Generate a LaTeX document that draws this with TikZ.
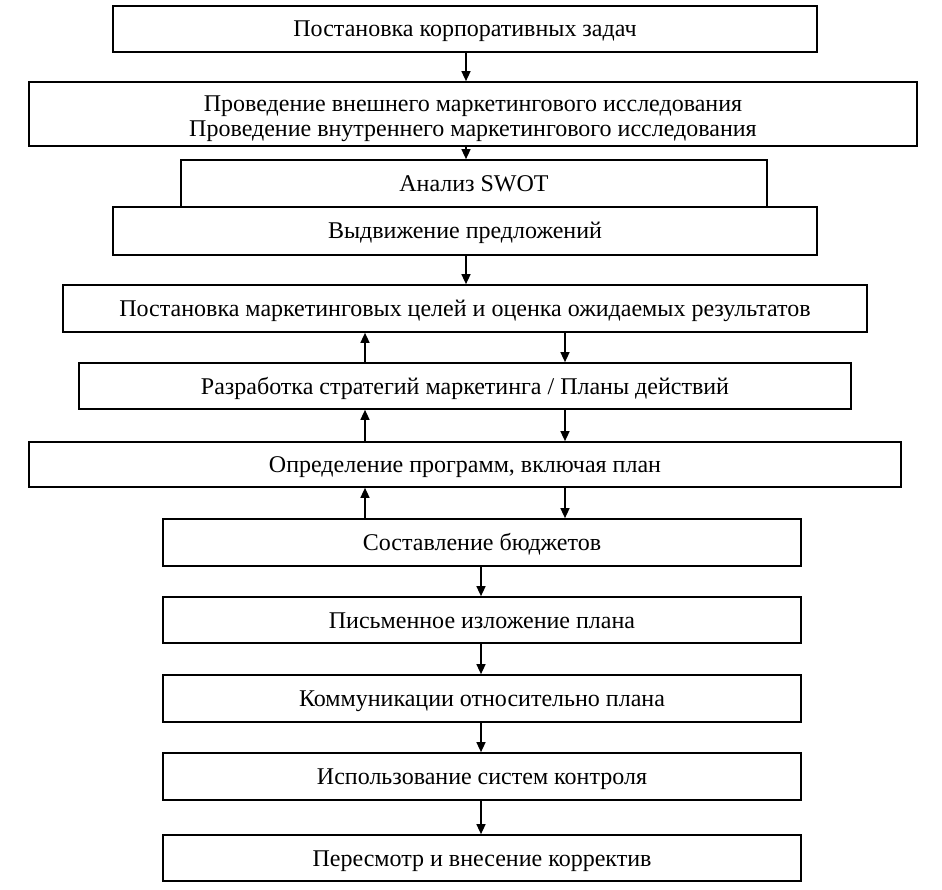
\documentclass[tikz,border=0pt]{standalone}
\usepackage{fontspec}
\setmainfont{Liberation Serif}
\usetikzlibrary{arrows.meta}
\begin{document}
\begin{tikzpicture}[x=1pt,y=-1pt,
  box/.style={draw=black,line width=1.7pt,fill=white,inner sep=0pt,
    font=\fontsize{24}{25}\selectfont,align=center,text height=20pt,text depth=4pt},
  arr/.style={line width=1.5pt,-{Triangle[length=10pt,width=9pt]}}]
\useasboundingbox[fill=white] (0,0) rectangle (942,890);
\coordinate (cA) at (466,0);
\coordinate (cU) at (365,0);
\coordinate (cD) at (565,0);
\coordinate (cB) at (481,0);
\node[box,minimum width=704pt,minimum height=46pt] (b1) at (465,29) {Постановка корпоративных задач};
\node[box,minimum width=888pt,minimum height=64pt,text height=50pt,text depth=4pt] (b2) at (473,114) {Проведение внешнего маркетингового исследования\\Проведение внутреннего маркетингового исследования};
\node[box,minimum width=586pt,minimum height=47pt] (b3) at (474,183.5) {Анализ SWOT};
\node[box,minimum width=704pt,minimum height=48pt] (b4) at (465,231) {Выдвижение предложений};
\node[box,minimum width=804pt,minimum height=47pt] (b5) at (465,308.5) {Постановка маркетинговых целей и оценка ожидаемых результатов};
\node[box,minimum width=772pt,minimum height=46pt] (b6) at (465,386) {Разработка стратегий маркетинга / Планы действий};
\node[box,minimum width=872pt,minimum height=45pt] (b7) at (465,464.5) {Определение программ, включая план};
\node[box,minimum width=638pt,minimum height=47pt] (b8) at (482,542.5) {Составление бюджетов};
\node[box,minimum width=638pt,minimum height=46pt] (b9) at (482,620) {Письменное изложение плана};
\node[box,minimum width=638pt,minimum height=47pt] (b10) at (482,698.5) {Коммуникации относительно плана};
\node[box,minimum width=638pt,minimum height=47pt] (b11) at (482,776.5) {Использование систем контроля};
\node[box,minimum width=638pt,minimum height=46pt] (b12) at (482,858) {Пересмотр и внесение корректив};
\draw[arr] (b1.south -| cA) -- (b2.north -| cA);
\draw[arr] (b2.south -| cA) -- (b3.north -| cA);
\draw[arr] (b4.south -| cA) -- (b5.north -| cA);
\draw[arr] (b6.north -| cU) -- (b5.south -| cU);
\draw[arr] (b5.south -| cD) -- (b6.north -| cD);
\draw[arr] (b7.north -| cU) -- (b6.south -| cU);
\draw[arr] (b6.south -| cD) -- (b7.north -| cD);
\draw[arr] (b8.north -| cU) -- (b7.south -| cU);
\draw[arr] (b7.south -| cD) -- (b8.north -| cD);
\draw[arr] (b8.south -| cB) -- (b9.north -| cB);
\draw[arr] (b9.south -| cB) -- (b10.north -| cB);
\draw[arr] (b10.south -| cB) -- (b11.north -| cB);
\draw[arr] (b11.south -| cB) -- (b12.north -| cB);
\end{tikzpicture}
\end{document}
